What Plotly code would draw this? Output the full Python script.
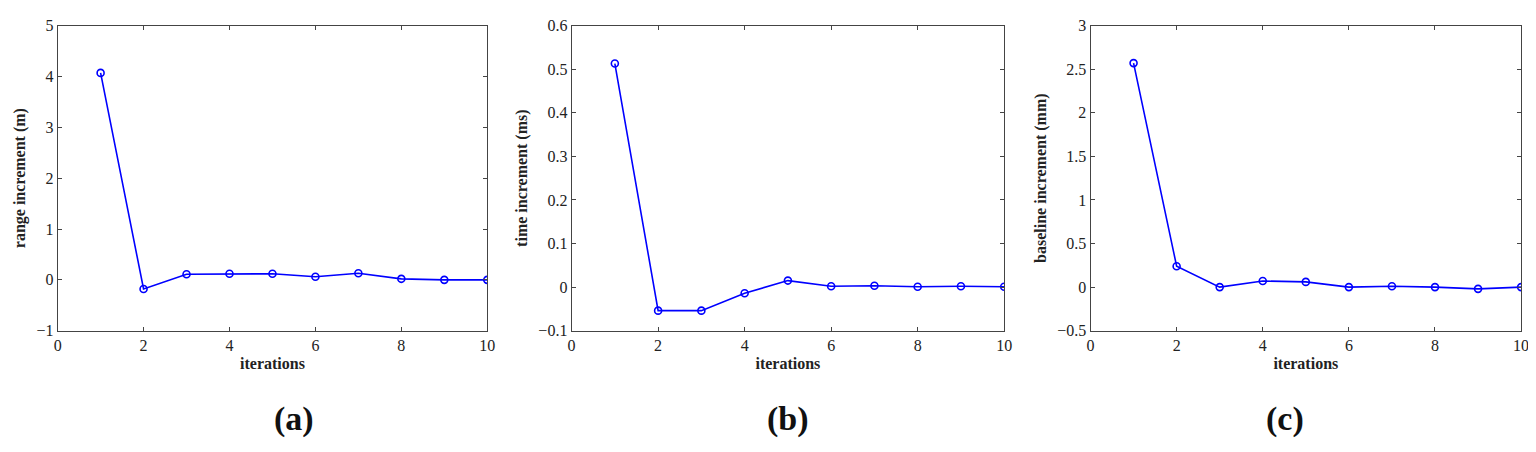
import plotly.graph_objects as go

iters = list(range(1, 11))
range_inc = [4.07, -0.18, 0.11, 0.12, 0.12, 0.06, 0.13, 0.02, 0.0, 0.0]
time_inc = [0.513, -0.054, -0.054, -0.014, 0.015, 0.002, 0.003, 0.001, 0.002, 0.001]
base_inc = [2.57, 0.24, 0.0, 0.07, 0.06, 0.0, 0.01, 0.0, -0.02, 0.0]
ylabels = ["range increment (m)", "time increment (ms)", "baseline increment (mm)"]
yranges = [[-1, 5], [-0.1, 0.6], [-0.5, 3]]
ydticks = [1, 0.1, 0.5]
panel_labels = ["(a)", "(b)", "(c)"]

W, H = 1536, 452
doms = [(46, 479), (564, 1000), (1087, 1521)]
fig = go.Figure()
font = dict(family="Liberation Serif", size=16, color="#222")
for i, (ys, dom) in enumerate(zip([range_inc, time_inc, base_inc], doms)):
    n = "" if i == 0 else str(i + 1)
    fig.add_trace(go.Scatter(x=iters, y=ys, mode="lines+markers", xaxis="x" + n, yaxis="y" + n,
                             line=dict(color="#0000ff", width=1.6),
                             marker=dict(symbol="circle-open", size=7, color="#0000ff", line=dict(width=1.6)),
                             showlegend=False))
    common = dict(showgrid=False, zeroline=False, showline=True, mirror="ticks", linecolor="#444",
                  ticks="inside", ticklen=4, tickcolor="#444", tickfont=dict(family="Liberation Serif", size=16, color="#222"))
    fig.layout["xaxis" + n] = dict(domain=[dom[0] / W, dom[1] / W], range=[0, 10], dtick=2, anchor="y" + n,
                                   title=dict(text="<b>iterations</b>", font=font, standoff=4), **common)
    fig.layout["yaxis" + n] = dict(domain=[1 - 327 / H, 1 - 10 / H], range=yranges[i], dtick=ydticks[i], anchor="x" + n,
                                   title=dict(text="<b>" + ylabels[i] + "</b>", font=font, standoff=6), **common)
    fig.add_annotation(x=(dom[0] + dom[1]) / 2 / W, y=1 - 441 / H, xref="paper", yref="paper",
                       text="<b>" + panel_labels[i] + "</b>", showarrow=False,
                       font=dict(family="Liberation Serif", size=34, color="#111"))
fig.update_layout(width=W, height=H, margin=dict(l=0, r=0, t=0, b=0),
                  paper_bgcolor="white", plot_bgcolor="white")
fig.write_html("out.html")
